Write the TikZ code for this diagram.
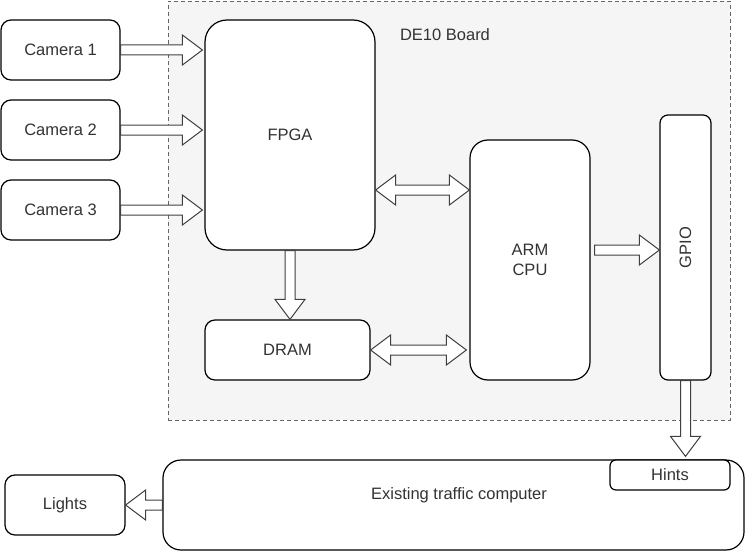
\documentclass[tikz,border=0pt]{standalone}
\usepackage{fontspec}
\setmainfont{Liberation Sans}
\usetikzlibrary{calc}

\tikzset{
  blk/.style={draw=black, fill=white, line width=1.2pt, rounded corners=#1,
    inner sep=0pt, font=\fontsize{16.5}{20}\selectfont, text=black!80, align=center},
  blk/.default=10pt,
  txt/.style={font=\fontsize{16.5}{20}\selectfont, text=black!80, align=center},
  flex/.style={draw=black!75, fill=white, line width=1pt, line join=miter},
}

% block arrow, one head
\newcommand{\onearrow}[2]{%
  \coordinate (ta) at (#1);
  \coordinate (tb) at (#2);
  \coordinate (hb) at ($(tb)!20pt!(ta)$);
  \draw[flex] ($(ta)!5pt!90:(tb)$) -- ($(hb)!5pt!90:(tb)$) -- ($(hb)!15pt!90:(tb)$) -- (tb)
    -- ($(hb)!15pt!-90:(tb)$) -- ($(hb)!5pt!-90:(tb)$) -- ($(ta)!5pt!-90:(tb)$) -- cycle;
}
% block arrow, two heads
\newcommand{\twoarrow}[2]{%
  \coordinate (ta) at (#1);
  \coordinate (tb) at (#2);
  \coordinate (ha) at ($(ta)!20pt!(tb)$);
  \coordinate (hb) at ($(tb)!20pt!(ta)$);
  \draw[flex] (ta) -- ($(ha)!15pt!90:(tb)$) -- ($(ha)!5pt!90:(tb)$) -- ($(hb)!5pt!90:(tb)$)
    -- ($(hb)!15pt!90:(tb)$) -- (tb) -- ($(hb)!15pt!-90:(tb)$) -- ($(hb)!5pt!-90:(tb)$)
    -- ($(ha)!5pt!-90:(tb)$) -- ($(ha)!15pt!-90:(tb)$) -- cycle;
}

\begin{document}
\begin{tikzpicture}[x=1pt,y=-1pt]
    \useasboundingbox (0,0) rectangle (745,551);

    % board
    \node[draw=black!60, dash pattern=on 4pt off 3pt, fill=black!4, line width=0.9pt, inner sep=0pt,
      minimum width=562, minimum height=419] (board) at (449,210.5) {};
    \node[txt] (boardlbl) at (445,35) {DE10 Board};

    \node[blk=22pt, minimum width=170, minimum height=230] (fpga) at (290,135) {FPGA};
    \node[blk, minimum width=165, minimum height=60] (dram) at (287.5,350) {DRAM};
    \node[blk=18pt, minimum width=120, minimum height=240] (arm) at (530,260) {ARM\\CPU};
    \node[blk=8pt, minimum width=51, minimum height=265] (gpio) at (685.5,247.5) {};
    \node[txt, rotate=90] (gpiolbl) at (gpio.center) {GPIO};

    \foreach \i/\y in {1/50,2/130,3/210}{
        \node[blk, minimum width=119, minimum height=60] (cam\i) at (60.5,\y) {Camera \i};
        \onearrow{cam\i.east}{$(cam\i.east -| fpga.west)+(-2,0)$}
    }

    \coordinate (fpgaout) at ($(fpga.east)+(0,55)$);
    \coordinate (armout) at ($(arm.east)+(4,-10)$);

    \onearrow{fpga.south}{fpga.south |- dram.north}
    \twoarrow{fpgaout}{fpgaout -| arm.west}
    \twoarrow{dram.east}{$(dram.east -| arm.west)+(-3,0)$}
    \onearrow{armout}{armout -| gpio.west}

    % outside the board
    \node[blk=18pt, minimum width=581, minimum height=90] (traffic) at (453.5,505) {};
    \node[txt] (trafficlbl) at (459,495) {Existing traffic computer};
    \node[blk=6pt, minimum width=120, minimum height=30] (hints) at (670,475) {Hints};
    \node[blk, minimum width=120, minimum height=60] (lights) at (65,505) {Lights};

    \onearrow{gpio.south}{$(gpio.south |- hints.north)+(0,-3)$}
    \onearrow{lights.east -| traffic.west}{lights.east}
\end{tikzpicture}
\end{document}
